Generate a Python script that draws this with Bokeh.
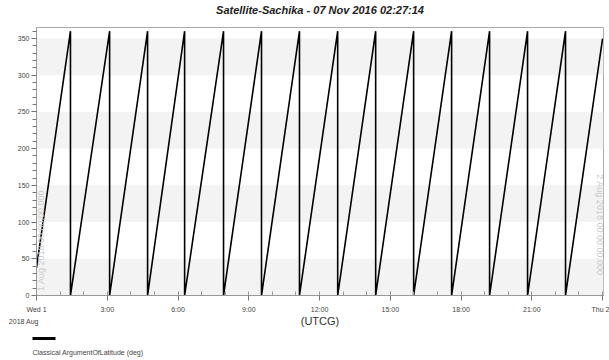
import math
from bokeh.plotting import figure
from bokeh.layouts import column
from bokeh.models import Range1d, FixedTicker, BoxAnnotation, Label
from bokeh.core.properties import value
from bokeh.embed import file_html
from bokeh.resources import INLINE

# ---- data ----
wrap_hours = [1.44, 3.10, 4.71, 6.28, 7.93, 9.54, 11.15, 12.77, 14.38,
              15.99, 17.60, 19.21, 20.82, 22.43]          # times where the angle wraps 360 -> 0
start_hour, start_value = 0.0, 38.0
end_hour, end_value = 24.0, 350.0
wrap_top, wrap_bottom = 360.0, 0.0

x_ticks = [0, 3, 6, 9, 12, 15, 18, 21, 24]
x_tick_labels = ["Wed 1", "3:00", "6:00", "9:00", "12:00", "15:00", "18:00", "21:00", "Thu 2"]
first_tick_date = "2018 Aug"
y_ticks = [0, 50, 100, 150, 200, 250, 300, 350]
band_ranges = [(0, 50), (100, 150), (200, 250), (300, 350)]

title_text = "Satellite-Sachika - 07 Nov 2016 02:27:14"
series_name = "Classical ArgumentOfLatitude (deg)"

# build the sawtooth vertices
xs = [start_hour]
ys = [start_value]
for t in wrap_hours:
    xs += [t, t]
    ys += [wrap_top, wrap_bottom]
xs.append(end_hour)
ys.append(end_value)

FONT = "Liberation Sans"
W = 609
H_MAIN = 335
H_LEG = 25

p = figure(width=W, height=H_MAIN, output_backend="svg", toolbar_location=None,
           x_range=Range1d(0, 24.04), y_range=Range1d(0, 365),
           min_border_left=36, min_border_right=6, min_border_top=27, min_border_bottom=40)
p.frame_align = False

# trailing blank line lifts the title towards the top edge, as in the reference
p.title.text = title_text + "\n"
p.title.align = "center"
p.title.text_font = FONT
p.title.text_font_size = "11px"
p.title.text_font_style = "bold italic"
p.title.text_color = "#222222"
p.title.text_line_height = 0.9
p.title.standoff = 2

p.background_fill_color = "white"
p.border_fill_color = "white"
p.outline_line_color = "#aaaaaa"
p.outline_line_width = 1
p.xgrid.visible = False
p.ygrid.visible = False

for b, t in band_ranges:
    p.add_layout(BoxAnnotation(bottom=b, top=t, fill_color="#f3f3f3", fill_alpha=1.0,
                               line_alpha=0, level="underlay"))

p.line(xs, ys, line_color="black", line_width=1.6)

# axes
labels = {t: l for t, l in zip(x_ticks, x_tick_labels)}
# first tick carries the year/month line, shifted left like the reference
labels[x_ticks[0]] = x_tick_labels[0] + "\n" + first_tick_date + "\u00a0" * 13
p.xaxis.ticker = FixedTicker(ticks=x_ticks, minor_ticks=list(range(0, 25)))
p.xaxis.major_label_overrides = labels
p.xaxis.axis_label = "(UTCG)"
p.xaxis.axis_label_text_font = FONT
p.xaxis.axis_label_text_font_size = "11px"
p.xaxis.axis_label_text_font_style = "normal"
p.xaxis.axis_label_text_color = "#333333"
p.xaxis.axis_label_standoff = -13
p.xaxis.major_label_text_font = FONT
p.xaxis.major_label_text_font_size = "7px"
p.xaxis.major_label_text_line_height = 1.8
p.xaxis.major_label_text_color = "#444444"
p.xaxis.major_label_standoff = 5
p.xaxis.major_tick_in = 3
p.xaxis.major_tick_out = 5
p.xaxis.minor_tick_in = 4
p.xaxis.minor_tick_out = 0
p.xaxis.axis_line_color = "#999999"
p.xaxis.major_tick_line_color = "#777777"
p.xaxis.minor_tick_line_color = "#999999"

p.yaxis.ticker = FixedTicker(ticks=y_ticks, minor_ticks=list(range(0, 361, 10)))
p.yaxis.major_label_text_font = FONT
p.yaxis.major_label_text_font_size = "7px"
p.yaxis.major_label_text_color = "#444444"
p.yaxis.major_label_standoff = 2
p.yaxis.major_tick_in = 0
p.yaxis.major_tick_out = 5
p.yaxis.minor_tick_in = 0
p.yaxis.minor_tick_out = 4
p.yaxis.axis_line_color = "#999999"
p.yaxis.major_tick_line_color = "#666666"
p.yaxis.minor_tick_line_color = "#777777"

# watermark epoch texts
p.add_layout(Label(x=0.17, y=6, text="1 Aug 2018 00:00:00.000", angle=math.pi / 2,
                   text_font=FONT, text_font_size="9px", text_color="#cccccc",
                   text_align="left", text_baseline="middle"))
p.add_layout(Label(x=23.9, y=165, text="2 Aug 2018 00:00:00.000", angle=-math.pi / 2,
                   text_font=FONT, text_font_size="9px", text_color="#cccccc",
                   text_align="left", text_baseline="middle"))

# ---- legend strip below the chart (key line above its text) ----
leg = figure(width=W, height=H_LEG, output_backend="svg", toolbar_location=None,
             x_range=Range1d(0, W), y_range=Range1d(0, H_LEG),
             x_axis_type=None, y_axis_type=None, min_border=0)
leg.frame_align = False
leg.grid.visible = False
leg.outline_line_color = None
leg.background_fill_color = "white"
leg.border_fill_color = "white"
leg.line([32, 55], [22, 22], line_color="black", line_width=3)
leg.text([32], [8], text=[series_name], text_font=value(FONT), text_font_size="7px",
         text_color="#444444", text_align="left", text_baseline="middle")

layout = column(p, leg, spacing=0)
open("out.html", "w").write(file_html(layout, INLINE))
